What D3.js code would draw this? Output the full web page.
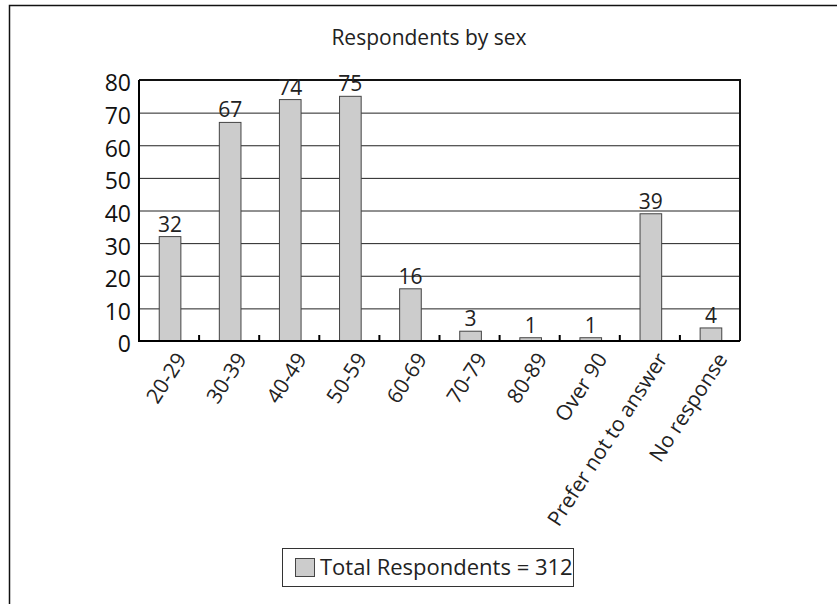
<!DOCTYPE html>
<html>
<head>
<meta charset="utf-8">
<script src="https://cdn.jsdelivr.net/npm/d3@7"></script>
<style>
  html, body { margin: 0; padding: 0; background: #fff; }
  svg { display: block; font-family: "Open Sans", sans-serif; }
</style>
</head>
<body>
<svg id="chart" width="837" height="604"></svg>
<script>
'use strict';

// values
var categories = ['20-29', '30-39', '40-49', '50-59', '60-69', '70-79', '80-89', 'Over 90', 'Prefer not to answer', 'No response'];
var respondents = [32, 67, 74, 75, 16, 3, 1, 1, 39, 4];
var yTicks = [0, 10, 20, 30, 40, 50, 60, 70, 80];
var titleText = 'Respondents by sex';
var legendText = 'Total Respondents = 312';

(() => {
  const margin = { left: 139, right: 740, top: 80, bottom: 341 };
  const barRatio = 0.36;

  var svg = d3.select('#chart');

  // outer frame, only top and left edges show in the picture
  svg.append('rect')
    .attr('x', 9.5).attr('y', 5.5)
    .attr('width', 1000).attr('height', 1000)
    .attr('fill', 'none')
    .attr('stroke', '#111')
    .attr('stroke-width', 1.5);

  var x = d3.scaleBand().domain(categories).range([margin.left, margin.right]);
  var y = d3.scaleLinear().domain([0, 80]).range([margin.bottom, margin.top]);

  svg.append('text')
    .attr('x', 429).attr('y', 45)
    .attr('text-anchor', 'middle')
    .attr('font-size', 21)
    .attr('fill', '#222')
    .text(titleText);

  // gridlines + y labels
  var gy = svg.append('g')
    .attr('transform', `translate(${margin.left},0)`)
    .call(d3.axisLeft(y).tickValues(yTicks).tickSize(-(margin.right - margin.left)).tickPadding(8));
  gy.select('.domain').remove();
  gy.selectAll('.tick line').attr('stroke', '#222').attr('stroke-width', 1);
  gy.selectAll('.tick text')
    .attr('font-size', 23)
    .attr('font-family', '"Open Sans", sans-serif')
    .attr('fill', '#111')
    .attr('dy', '0.65em')
    .attr('y', -4);

  // plot frame: top + right
  svg.append('path')
    .attr('d', `M${margin.left},${margin.top}H${margin.right}V${margin.bottom}`)
    .attr('fill', 'none').attr('stroke', '#111').attr('stroke-width', 2);

  // bars
  var bw = x.bandwidth() * barRatio;
  svg.append('g').selectAll('rect')
    .data(respondents)
    .join('rect')
      .attr('x', (d, i) => x(categories[i]) + (x.bandwidth() - bw) / 2 + 1)
      .attr('y', d => y(d))
      .attr('width', bw)
      .attr('height', d => y(0) - y(d))
      .attr('fill', '#cccccc')
      .attr('stroke', '#444')
      .attr('stroke-width', 1);

  // value labels
  svg.append('g').selectAll('text')
    .data(respondents)
    .join('text')
      .attr('x', (d, i) => x(categories[i]) + x.bandwidth() / 2 + 1)
      .attr('y', d => y(d) - 5)
      .attr('text-anchor', 'middle')
      .attr('font-size', 21)
      .attr('fill', '#222')
      .text(d => d);

  // axes lines
  svg.append('path')
    .attr('d', `M${margin.left},${margin.top}V${margin.bottom}H${margin.right}`)
    .attr('fill', 'none').attr('stroke', '#000').attr('stroke-width', 2);

  // inward ticks at band edges
  svg.append('g').selectAll('line')
    .data(categories.slice(1))
    .join('line')
      .attr('x1', d => x(d)).attr('x2', d => x(d))
      .attr('y1', margin.bottom).attr('y2', margin.bottom - 6)
      .attr('stroke', '#000').attr('stroke-width', 2);

  // category labels
  var gx = svg.append('g')
    .attr('transform', `translate(0,${margin.bottom})`)
    .call(d3.axisBottom(x).tickSize(0));
  gx.select('.domain').remove();
  gx.selectAll('.tick text')
    .attr('font-size', 21)
    .attr('font-family', '"Open Sans", sans-serif')
    .attr('fill', '#222')
    .attr('text-anchor', 'end')
    .attr('transform', 'translate(6,10) rotate(-57)')
    .attr('x', 0).attr('y', 0).attr('dy', '0.7em');

  // legend
  var lg = svg.append('g');
  lg.append('rect')
    .attr('x', 282.5).attr('y', 548.5).attr('width', 291).attr('height', 38)
    .attr('fill', '#fff').attr('stroke', '#333').attr('stroke-width', 1);
  lg.append('rect')
    .attr('x', 295.5).attr('y', 558.5).attr('width', 19).attr('height', 18)
    .attr('fill', '#cccccc').attr('stroke', '#444').attr('stroke-width', 1);
  lg.append('text')
    .attr('x', 320).attr('y', 575)
    .attr('font-size', 22)
    .attr('fill', '#222')
    .text(legendText);
})();
</script>
</body>
</html>
